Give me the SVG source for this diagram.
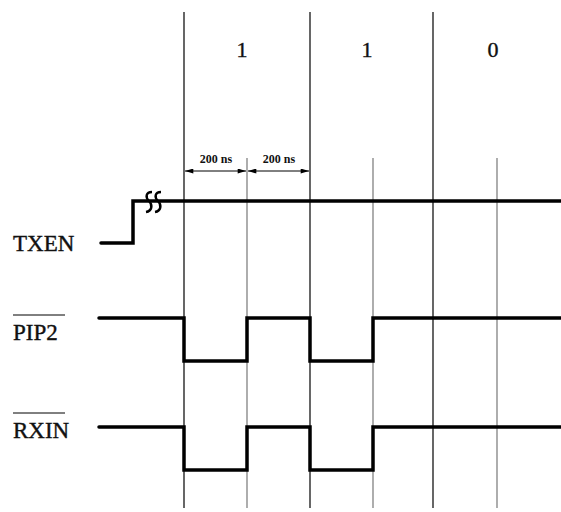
<svg xmlns="http://www.w3.org/2000/svg" width="561" height="512" viewBox="0 0 561 512">
<style>
.sig{fill:none;stroke:#000;stroke-width:3.5;stroke-linejoin:miter;stroke-linecap:round}
.grid{stroke:#000;stroke-width:1.2}
.grid2{stroke:#777;stroke-width:1.2}
.lbl{font-family:"Liberation Serif",serif;font-size:23px;fill:#111;stroke:#111;stroke-width:0.4}
.bit{font-family:"Liberation Serif",serif;font-size:22px;fill:#111;stroke:#111;stroke-width:0.4;text-anchor:middle}
.dim{font-family:"Liberation Serif",serif;font-size:12px;font-weight:bold;fill:#111;text-anchor:middle}
.dl{stroke:#000;stroke-width:1;marker-start:url(#ah);marker-end:url(#ah)}
.ovl{stroke:#000;stroke-width:1}
</style>
<defs>
<marker id="ah" viewBox="0 0 10 6" refX="10" refY="3" markerWidth="14" markerHeight="5" markerUnits="userSpaceOnUse" orient="auto-start-reverse">
<path d="M0,0 L10,3 L0,6 Z" fill="#000"/>
</marker>
</defs>
<rect width="561" height="512" fill="#fff"/>
<g id="gridlines">
<line class="grid" x1="184" y1="12" x2="184" y2="508"/>
<line class="grid" x1="310" y1="12" x2="310" y2="508"/>
<line class="grid" x1="433" y1="12" x2="433" y2="508"/>
<line class="grid2" x1="247" y1="158" x2="247" y2="508"/>
<line class="grid2" x1="373" y1="158" x2="373" y2="508"/>
<line class="grid2" x1="497" y1="158" x2="497" y2="508"/>
</g>
<g id="bits">
<text class="bit" x="242" y="57">1</text>
<text class="bit" x="367" y="57">1</text>
<text class="bit" x="493" y="57">0</text>
</g>
<g id="dimensions">
<line class="dl" x1="185" y1="171" x2="246" y2="171"/>
<line class="dl" x1="248" y1="171" x2="309" y2="171"/>
<text class="dim" x="216" y="163">200 ns</text>
<text class="dim" x="279" y="163">200 ns</text>
</g>
<g id="TXEN">
<text class="lbl" x="13" y="251">TXEN</text>
<path class="sig" d="M101,243 H133 V201 H561"/>
<path d="M152,192 c-6,0 -7,5 -3,9 c4,4 3,10 -3,11 M161,192 c-6,0 -7,5 -3,9 c4,4 3,10 -3,11" fill="none" stroke="#000" stroke-width="2.4"/>
</g>
<g id="PIP2">
<line class="ovl" x1="13" y1="315" x2="65" y2="315"/>
<text class="lbl" x="13" y="340">PIP2</text>
<path class="sig" d="M99,318 H184 V361 H247 V318 H310 V361 H373 V318 H561"/>
</g>
<g id="RXIN">
<line class="ovl" x1="13" y1="413" x2="65" y2="413"/>
<text class="lbl" x="13" y="438">RXIN</text>
<path class="sig" d="M99,427 H184 V470 H247 V427 H310 V470 H373 V427 H561"/>
</g>
</svg>
